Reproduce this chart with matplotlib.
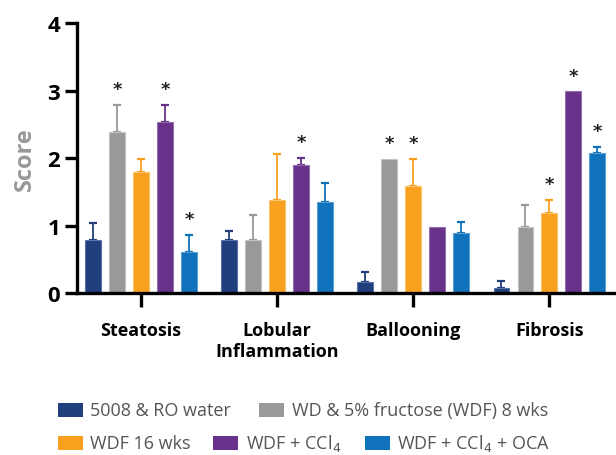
import numpy as np
import matplotlib
matplotlib.use("Agg")
import matplotlib.pyplot as plt
from matplotlib.patches import Rectangle

plt.rcParams['font.family'] = ['Open Sans', 'DejaVu Sans']

categories = ["Steatosis", "Lobular\nInflammation", "Ballooning", "Fibrosis"]
groups = ["5008 & RO water", "WD & 5% fructose (WDF) 8 wks", "WDF 16 wks",
          "WDF + CCl$_4$", "WDF + CCl$_4$ + OCA"]
colors = ["#213f7d", "#999999", "#f9a11f", "#68318a", "#1072ba"]
edges = ["#5a73a8", "#c4c4c4", "#fbc46f", "#9270ad", "#5a9fd4"]

# mean score per group, one list per category
means = {
    "5008": [0.78, 0.78, 0.17, 0.07],
    "wdf8": [2.38, 0.78, 1.99, 0.98],
    "wdf16": [1.79, 1.38, 1.58, 1.18],
    "ccl4": [2.53, 1.90, 0.98, 2.99],
    "oca": [0.61, 1.35, 0.89, 2.07],
}
# upper error (SEM)
errs = {
    "5008": [0.26, 0.14, 0.15, 0.11],
    "wdf8": [0.41, 0.38, 0.0, 0.32],
    "wdf16": [0.20, 0.68, 0.41, 0.20],
    "ccl4": [0.26, 0.10, 0.0, 0.0],
    "oca": [0.25, 0.28, 0.17, 0.10],
}
# significance stars
stars = {
    "5008": [0, 0, 0, 0],
    "wdf8": [1, 0, 1, 0],
    "wdf16": [0, 0, 1, 1],
    "ccl4": [1, 1, 0, 1],
    "oca": [1, 0, 0, 1],
}

fig = plt.figure(figsize=(6.16, 4.56), dpi=100)
ax = fig.add_axes([0.125, 0.355, 0.875, 0.592])

x = np.arange(len(categories))
step = 0.176
w = 0.115
for i, key in enumerate(means):
    pos = x + (i - 2) * step
    m = np.array(means[key])
    e = np.array(errs[key])
    ax.bar(pos, m, width=w, color=colors[i], edgecolor=edges[i], linewidth=0.8, zorder=2)
    has = e > 0
    ax.errorbar(pos[has], m[has], yerr=[np.zeros(has.sum()), e[has]], fmt='none',
                ecolor=colors[i], elinewidth=1.3, capsize=3, capthick=1.6, zorder=1)
    for p, v, er, s in zip(pos, m, e, stars[key]):
        if s:
            ax.text(p, v + er + 0.1, "*", ha='center', va='bottom', fontsize=13,
                    fontweight='bold', color='#222222', family='DejaVu Sans')

ax.set_xlim(-0.47, 3.49)
ax.set_ylim(0, 4)
ax.set_yticks([0, 1, 2, 3, 4])
ax.set_xticks(x)
ax.set_xticklabels(categories, fontsize=13, fontweight='bold', linespacing=1.25)
for lab in ax.get_yticklabels():
    lab.set_fontsize(16)
    lab.set_fontweight('bold')
ax.set_ylabel("Score", fontsize=17, fontweight='bold', color='#999999', labelpad=8)

for s in ['top', 'right']:
    ax.spines[s].set_visible(False)
ax.spines['left'].set_linewidth(2.4)
ax.spines['bottom'].set_linewidth(2.4)
ax.tick_params(axis='y', direction='out', length=9, width=2.4, pad=3)
ax.tick_params(axis='x', direction='out', length=10, width=2.4, pad=10)

# legend laid out in two rows
W, H = 616.0, 456.0
rows = [
    [(58, 90, 0), (259, 292, 1)],
    [(58, 90, 2), (213, 246, 3), (365, 397, 4)],
]
row_y = [411, 444]
for r, items in enumerate(rows):
    yc = row_y[r]
    for px, tx, k in items:
        fig.add_artist(Rectangle((px / W, 1 - (yc + 7) / H), 25 / W, 14 / H,
                                 transform=fig.transFigure, facecolor=colors[k],
                                 edgecolor='none'))
        fig.text(tx / W, 1 - yc / H, groups[k], ha='left', va='center',
                 fontsize=13, color='#555555')

fig.savefig("out.png", dpi=100)
